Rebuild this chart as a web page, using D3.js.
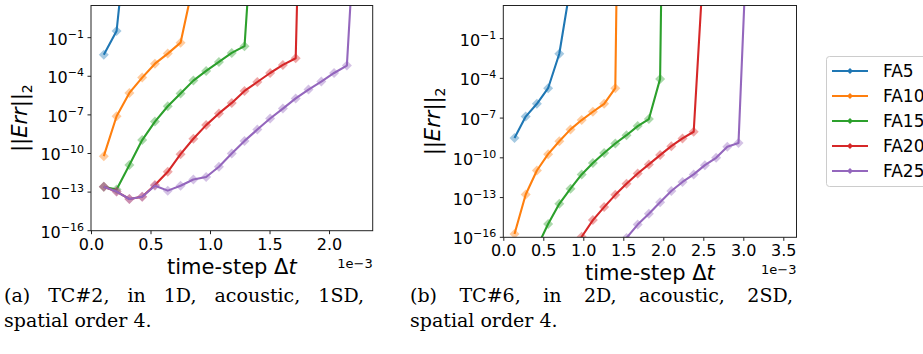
<!DOCTYPE html>
<html>
<head>
<meta charset="utf-8">
<script src="https://cdn.jsdelivr.net/npm/d3@7"></script>
<style>
  body { margin: 0; background: #fff; }
  svg { display: block; }
  text { font-family: "DejaVu Sans", sans-serif; fill: #000; }
  .caption { font-family: "DejaVu Serif", serif; font-size: 19px; }
</style>
</head>
<body>
<svg id="chart" width="923" height="354"></svg>
<script>
// time-step values (x 1e-3)
const dtLeft = [0.1075, 0.215, 0.3225, 0.43, 0.5375, 0.645, 0.7525, 0.86, 0.9675, 1.075, 1.1825,
  1.29, 1.3975, 1.505, 1.6125, 1.72, 1.8275, 1.935, 2.0425, 2.15, 2.2575];
const dtRight = [0.14, 0.28, 0.42, 0.56, 0.70, 0.84, 0.98, 1.12, 1.26, 1.40, 1.54,
  1.68, 1.82, 1.96, 2.10, 2.24, 2.38, 2.52, 2.66, 2.80, 2.94, 3.08];

const seriesNames = ['FA5', 'FA10', 'FA15', 'FA20', 'FA25'];
const seriesColors = ['#1f77b4', '#ff7f0e', '#2ca02c', '#d62728', '#9467bd'];

// (a) TC#2, 1D -- ||Err||_2 per time step (null = not shown)
const errLeftFA5 = [4.8e-3, 0.33, 1e9];
const errLeftFA10 = [6.2e-11, 7.9e-8, 5.1e-6, 7.9e-5, 9.5e-4, 5.8e-3, 4.1e-2, 1.6e3];
const errLeftFA15 = [2.6e-13, 1.6e-13, 1.3e-11, 1.1e-9, 3.0e-8, 4.7e-7, 4.6e-6, 4.6e-5, 2.6e-4,
  1.3e-3, 6.5e-3, 2.2e-2, 2e13];
const errLeftFA20 = [2.6e-13, 1.1e-13, 2.9e-14, 4.4e-14, 3.5e-13, 3.8e-12, 8.9e-11, 1.4e-9, 1.6e-8,
  1.3e-7, 8.5e-7, 7.2e-6, 3.6e-5, 1.8e-4, 7.6e-4, 2.5e-3, 1e38];
const errLeftFA25 = [2.6e-13, 1.1e-13, 2.9e-14, 4.4e-14, 3.1e-13, 1.3e-13, 3.1e-13, 9.5e-13, 1.5e-12,
  9.3e-12, 1.0e-10, 9.5e-10, 7.2e-9, 5.2e-8, 3.1e-7, 1.9e-6, 9.3e-6, 3.9e-5, 1.8e-4, 6.8e-4, 1e14];

// (b) TC#6, 2D
const errRightFA5 = [3.2e-9, 1.3e-7, 1.2e-6, 1.8e-5, 7.2e-3, 1e3];
const errRightFA10 = [1.8e-16, 1.7e-13, 1.1e-11, 1.9e-10, 1.8e-9, 1.4e-8, 7.1e-8, 3.0e-7, 1.2e-6,
  1.8e-5, 1e60];
const errRightFA15 = [null, null, 1.7e-17, 1.0e-15, 3.4e-14, 4.7e-13, 5.6e-12, 4.1e-11, 2.3e-10,
  1.2e-9, 5.1e-9, 2.5e-8, 8.5e-8, 9.1e-5, 1e60];
const errRightFA20 = [null, null, null, null, null, 6e-18, 1.1e-16, 2.0e-15, 1.9e-14, 1.6e-13,
  1.1e-12, 6.5e-12, 3.2e-11, 1.6e-10, 7.6e-10, 2.9e-9, 9.3e-9, 2.5e6];
const errRightFA25 = [null, null, null, null, null, null, null, null, null, 4e-18, 9e-17, 9.1e-16,
  5.9e-15, 4.5e-14, 3.1e-13, 1.5e-12, 5.6e-12, 2.8e-11, 1.0e-10, 6.8e-10, 1.3e-9, 3e11];

const xTicksLeft = [0, 0.5, 1.0, 1.5, 2.0];
const xTicksRight = [0, 0.5, 1.0, 1.5, 2.0, 2.5, 3.0, 3.5];
const yTickExponents = [-1, -4, -7, -10, -13, -16];

const captionLeft = ['(a) TC#2, in 1D, acoustic, 1SD,', 'spatial order 4.'];
const captionRight = ['(b) TC#6, in 2D, acoustic, 2SD,', 'spatial order 4.'];

const svg = d3.select('#chart');

const drawPanel = ({ id, x0, x1, y0, y1, xMax, dt, errs, xTicks, yLabelX }) => {
  const x = d3.scaleLinear().domain([0, xMax]).range([x0, x1]);
  const y = d3.scaleLog().domain([1e-16, Math.pow(10, 1.5)]).range([y1, y0]);

  svg.append('clipPath').attr('id', id)
    .append('rect').attr('x', x0).attr('y', y0).attr('width', x1 - x0).attr('height', y1 - y0);

  const plot = svg.append('g').attr('clip-path', `url(#${id})`);
  const line = d3.line()
    .defined(d => d.v != null)
    .x(d => x(d.t))
    .y(d => y(d.v));
  const diamond = d3.symbol(d3.symbolSquare, 50);

  errs.forEach((vals, s) => {
    const pts = vals.map((v, i) => ({ t: dt[i], v }));
    plot.append('path')
      .attr('d', line(pts))
      .attr('fill', 'none')
      .attr('stroke', seriesColors[s])
      .attr('stroke-width', 2.1)
      .attr('stroke-linejoin', 'round');
    plot.selectAll(null)
      .data(pts.filter(d => d.v != null))
      .join('path')
      .attr('d', diamond)
      .attr('transform', d => `translate(${x(d.t)},${y(d.v)}) rotate(45)`)
      .attr('fill', seriesColors[s])
      .attr('fill-opacity', 0.4);
  });

  // spines
  svg.append('rect')
    .attr('x', x0).attr('y', y0).attr('width', x1 - x0).attr('height', y1 - y0)
    .attr('fill', 'none').attr('stroke', '#222').attr('stroke-width', 1);

  // x axis
  const xAxis = svg.append('g')
    .attr('transform', `translate(0,${y1})`)
    .call(d3.axisBottom(x).tickValues(xTicks).tickSize(3.5).tickPadding(4).tickFormat(d3.format('.1f')));
  xAxis.select('.domain').remove();
  xAxis.selectAll('line').attr('stroke', '#222');
  xAxis.selectAll('text').attr('font-size', 16).attr('fill', '#000');

  svg.append('text')
    .attr('x', x1).attr('y', y1 + 37)
    .attr('text-anchor', 'end')
    .attr('font-size', 13)
    .text('1e\u22123');

  const xl = svg.append('text')
    .attr('x', (x0 + x1) / 2).attr('y', y1 + 43)
    .attr('text-anchor', 'middle')
    .attr('font-size', 21);
  xl.append('tspan').text('time-step \u0394');
  xl.append('tspan').attr('font-style', 'italic').text('t');

  // y axis
  const yAxis = svg.append('g');
  yTickExponents.forEach(e => {
    const ty = y(Math.pow(10, e));
    yAxis.append('line')
      .attr('x1', x0 - 3.5).attr('x2', x0).attr('y1', ty).attr('y2', ty)
      .attr('stroke', '#222');
    const t = yAxis.append('text')
      .attr('x', x0 - 7).attr('y', ty + 7)
      .attr('text-anchor', 'end')
      .attr('font-size', 16);
    t.append('tspan').text('10');
    t.append('tspan').attr('font-size', 11).attr('dy', -7).text('\u2212' + Math.abs(e));
  });

  const yl = svg.append('text')
    .attr('transform', `translate(${yLabelX},${(y0 + y1) / 2}) rotate(-90)`)
    .attr('text-anchor', 'middle')
    .attr('font-size', 21);
  yl.append('tspan').text('||');
  yl.append('tspan').attr('font-style', 'italic').text('Err');
  yl.append('tspan').text('||');
  yl.append('tspan').attr('font-size', 14).attr('dy', 5).text('2');
};

drawPanel({
  id: 'clipA', x0: 91, x1: 372.7, y0: 5.5, y1: 230.7, xMax: 2.367,
  dt: dtLeft, errs: [errLeftFA5, errLeftFA10, errLeftFA15, errLeftFA20, errLeftFA25],
  xTicks: xTicksLeft, yLabelX: 27
});

drawPanel({
  id: 'clipB', x0: 503.3, x1: 796.5, y0: 5.5, y1: 237.3, xMax: 3.665,
  dt: dtRight, errs: [errRightFA5, errRightFA10, errRightFA15, errRightFA20, errRightFA25],
  xTicks: xTicksRight, yLabelX: 440
});

// legend
const legend = svg.append('g');
legend.append('rect')
  .attr('x', 826.5).attr('y', 56.5).attr('width', 130).attr('height', 130).attr('rx', 3)
  .attr('fill', '#fff').attr('stroke', '#ccc');
seriesNames.forEach((name, i) => {
  const ly = 71 + i * 25;
  legend.append('line')
    .attr('x1', 832).attr('x2', 868).attr('y1', ly).attr('y2', ly)
    .attr('stroke', seriesColors[i]).attr('stroke-width', 2.1);
  legend.append('path')
    .attr('d', d3.symbol(d3.symbolSquare, 18)())
    .attr('transform', `translate(850,${ly}) rotate(45)`)
    .attr('fill', seriesColors[i]);
  legend.append('text')
    .attr('x', 883).attr('y', ly + 6)
    .attr('font-size', 17)
    .text(name);
});

// captions (first line justified like LaTeX)
const drawCaption = (lines, xStart, xEnd) => {
  const words = lines[0].split(' ');
  const t = svg.append('text').attr('class', 'caption').attr('y', 302);
  const spans = words.map(w => t.append('tspan').text(w));
  const widths = spans.map(s => s.node().getComputedTextLength());
  const gap = (xEnd - xStart - d3.sum(widths)) / (words.length - 1);
  let cx = xStart;
  spans.forEach((s, i) => { s.attr('x', cx); cx += widths[i] + gap; });
  svg.append('text').attr('class', 'caption')
    .attr('x', xStart).attr('y', 327)
    .text(lines[1]);
};
drawCaption(captionLeft, 4, 364);
drawCaption(captionRight, 410, 793);
</script>
</body>
</html>
